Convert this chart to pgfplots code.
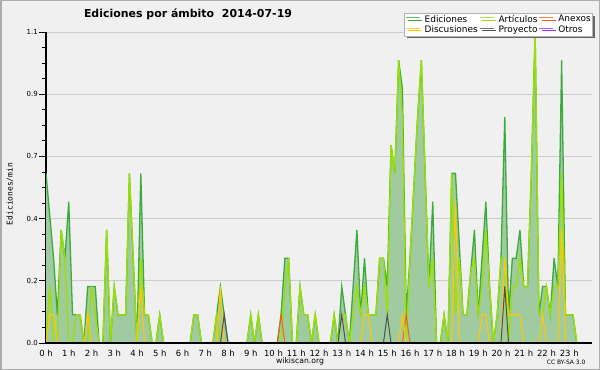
\documentclass[border=0pt]{standalone}
\usepackage{fontspec}
\setmainfont{DejaVu Sans}
\newfontfamily\monofont{DejaVu Sans Mono}
\usepackage{pgfplots}
\pgfplotsset{compat=1.18}
\usepackage{pgfplotstable}
\usetikzlibrary{shadows}

\definecolor{bg}{HTML}{F0F0F0}
\definecolor{edfill}{HTML}{A0CBA0}
\definecolor{edline}{HTML}{3DAA3D}
\definecolor{artline}{HTML}{9BE000}
\definecolor{discline}{HTML}{FFC800}
\definecolor{proyline}{HTML}{505050}
\definecolor{anexline}{HTML}{F06020}
\definecolor{otrosline}{HTML}{9933FF}
\definecolor{gridc}{HTML}{CCCCCC}

\pgfplotstableread{
i ed art disc proy anex
0 0.6 0 0 0 0
1 0.45 0.2 0.1 0 0
2 0.3 0 0.1 0 0
3 0.1 0 0 0 0
4 0.4 0.4 0 0 0
5 0.3 0.3 0 0 0
6 0.5 0 0 0 0
7 0.1 0 0 0 0
8 0.1 0.1 0 0 0
9 0.1 0.1 0 0 0
10 0 0 0 0 0
11 0.2 0 0.1 0 0
12 0.2 0.2 0 0 0
13 0.2 0.1 0 0 0
14 0 0 0 0 0
15 0 0 0 0 0
16 0.4 0.4 0 0 0
17 0 0 0 0 0
18 0.2 0.2 0 0 0
19 0.1 0.1 0 0 0
20 0.1 0.1 0 0 0
21 0.1 0.1 0 0 0
22 0.6 0.6 0 0 0
23 0.3 0.3 0 0 0
24 0 0 0 0 0
25 0.6 0.3 0.2 0 0
26 0.1 0.1 0 0 0
27 0.1 0.1 0 0 0
28 0 0 0 0 0
29 0 0 0 0 0
30 0.1 0.1 0 0 0
31 0 0 0 0 0
32 0 0 0 0 0
33 0 0 0 0 0
34 0 0 0 0 0
35 0 0 0 0 0
36 0 0 0 0 0
37 0 0 0 0 0
38 0 0 0 0 0
39 0.1 0.1 0 0 0
40 0.1 0.1 0 0 0
41 0 0 0 0 0
42 0 0 0 0 0
43 0 0 0 0 0
44 0 0 0 0 0
45 0.1 0.1 0 0 0
46 0.2 0 0.2 0 0
47 0.1 0 0 0.1 0
48 0 0 0 0 0
49 0 0 0 0 0
50 0 0 0 0 0
51 0 0 0 0 0
52 0 0 0 0 0
53 0 0 0 0 0
54 0.1 0.1 0 0 0
55 0 0 0 0 0
56 0.1 0.1 0 0 0
57 0 0 0 0 0
58 0 0 0 0 0
59 0 0 0 0 0
60 0 0 0 0 0
61 0 0 0 0 0
62 0.1 0 0 0 0.1
63 0.3 0.2 0 0 0
64 0.3 0.3 0 0 0
65 0 0 0 0 0
66 0 0 0 0 0
67 0.2 0.2 0 0 0
68 0.1 0.1 0 0 0
69 0.1 0.1 0 0 0
70 0 0 0 0 0
71 0.1 0.1 0 0 0
72 0 0 0 0 0
73 0 0 0 0 0
74 0 0 0 0 0
75 0 0 0 0 0
76 0.1 0.1 0 0 0
77 0 0 0 0 0
78 0.2 0.1 0 0.1 0
79 0.1 0.1 0 0 0
80 0 0 0 0 0
81 0.2 0.1 0 0 0
82 0.4 0.2 0 0 0
83 0.1 0.1 0 0 0
84 0.3 0.2 0.1 0 0
85 0.1 0.1 0.1 0 0
86 0.1 0.1 0 0 0
87 0.1 0.1 0 0 0
88 0.3 0.3 0 0 0
89 0.3 0.3 0 0 0
90 0.2 0.1 0 0.1 0
91 0.7 0.7 0 0 0
92 0.6 0.6 0 0 0
93 1.0 1.0 0 0 0
94 0.9 0.8 0.1 0 0
95 0.1 0 0 0 0.1
96 0.3 0.3 0 0 0
97 0.55 0.55 0 0 0
98 0.8 0.8 0 0 0
99 1.0 1.0 0 0 0
100 0.6 0.6 0 0 0
101 0.2 0.2 0 0 0
102 0.5 0.3 0 0 0
103 0 0 0 0 0
104 0 0 0 0 0
105 0.1 0.1 0 0 0
106 0 0 0 0 0
107 0.6 0.6 0 0 0
108 0.6 0.1 0.5 0 0
109 0.35 0.3 0 0 0
110 0.1 0.1 0 0 0
111 0.1 0.1 0 0 0
112 0.25 0.25 0 0 0
113 0.4 0.3 0 0 0
114 0.1 0.1 0 0 0
115 0.3 0.2 0.1 0 0
116 0.5 0.4 0.1 0 0
117 0.2 0.2 0 0 0
118 0 0 0 0 0
119 0.1 0.1 0 0 0
120 0.3 0.3 0 0 0
121 0.8 0.3 0.3 0.2 0
122 0.1 0 0.1 0 0
123 0.3 0.2 0.1 0 0
124 0.3 0.2 0.1 0 0
125 0.4 0.3 0.1 0 0
126 0.2 0.2 0 0 0
127 0.2 0.2 0 0 0
128 0.6 0.6 0 0 0
129 1.1 1.1 0 0 0
130 0.1 0.1 0 0 0
131 0.2 0.1 0.1 0 0
132 0.2 0.2 0 0 0
133 0.1 0.1 0 0 0
134 0.3 0.2 0 0 0
135 0.2 0.2 0 0 0
136 1.0 0.6 0.4 0 0
137 0.1 0.1 0 0 0
138 0.1 0.1 0 0 0
139 0.1 0.1 0 0 0
140 0 0 0 0 0
141 0 0 0 0 0
142 0 0 0 0 0
143 0 0 0 0 0
}\datatab

\begin{document}
\begin{tikzpicture}
\fill[bg] (0,0) rectangle (600bp,370bp);
\draw[gray!65, line width=1.5bp] (0.75bp,0.75bp) rectangle (599.25bp,369.25bp);
\begin{axis}[
  at={(46bp,27bp)}, anchor=south west,
  scale only axis, width=546bp, height=311bp,
  xmin=0, xmax=24, ymin=0, ymax=1.1,
  axis x line*=bottom, axis y line*=left,
  axis line style={line width=1.5bp, black},
  tick align=outside,
  major tick length=7bp, minor tick length=3.5bp,
  every tick/.style={black, line width=0.8bp},
  xtick={0,...,23},
  xticklabels={0 h,1 h,2 h,3 h,4 h,5 h,6 h,7 h,8 h,9 h,10 h,11 h,12 h,13 h,14 h,15 h,16 h,17 h,18 h,19 h,20 h,21 h,22 h,23 h},
  xtick style={draw=none},
  minor xtick={0,0.1666667,...,24},
  ytick={0,0.22,0.44,0.66,0.88,1.1},
  yticklabels={0.0,0.2,0.4,0.7,0.9,1.1},
  minor y tick num=3,
  ymajorgrids, major grid style={draw=gridc, line width=0.9bp},
  xticklabel style={font=\fontsize{8.5}{9}\selectfont, inner sep=1bp, yshift=1bp},
  yticklabel style={font=\fontsize{7}{8}\selectfont, inner sep=1bp},
  legend columns=3,
  legend cell align=left,
  legend image code/.code={\draw[#1, line width=0.9bp, opacity=0.8] (0bp,0.3ex) -- (14bp,0.3ex);},
  legend style={at={(1.002,1.062)}, anchor=north east, draw=gray!60, fill=white,
    line width=0.6bp, font=\fontsize{9}{9}\selectfont, inner sep=1.2bp,
    drop shadow={shadow xshift=2.5bp, shadow yshift=-2.5bp, fill=gray!80!black, opacity=1},
    nodes={inner sep=0.9bp},
    /tikz/every odd column/.append style={column sep=3.5bp},
    /tikz/every even column/.append style={column sep=0.5bp}},
]
\addplot[draw=none, fill=edfill, forget plot] table[x expr=\thisrow{i}/6, y=ed] {\datatab} \closedcycle;
\addplot[edline, line width=1.3bp] table[x expr=\thisrow{i}/6, y=ed] {\datatab};
\addlegendentry{Ediciones}
\addplot[artline, line width=1.3bp] table[x expr=\thisrow{i}/6, y=art] {\datatab};
\addlegendentry{Artículos}
\addplot[anexline, line width=1bp] table[x expr=\thisrow{i}/6, y=anex] {\datatab};
\addlegendentry{Anexos}
\addplot[discline, line width=1.1bp] table[x expr=\thisrow{i}/6, y=disc] {\datatab};
\addlegendentry{Discusiones}
\addplot[proyline, line width=1bp] table[x expr=\thisrow{i}/6, y=proy] {\datatab};
\addlegendentry{Proyecto}
\addlegendimage{otrosline, line width=1bp}
\addlegendentry{Otros}
\draw[black, line width=1.5bp] (axis cs:0,0) -- (axis cs:24,0);
\end{axis}
\node[font=\bfseries\fontsize{11}{13}\selectfont] at (188bp,356bp) {Ediciones por ámbito\hspace{0.7em}2014-07-19};
\node[font=\monofont\fontsize{8}{9}\selectfont, rotate=90] at (10bp,176bp) {Ediciones/min};
\node[font=\fontsize{7.7}{9}\selectfont] at (300bp,9bp) {wikiscan.org};
\node[font=\fontsize{6}{7}\selectfont, anchor=east] at (589bp,7.5bp) {CC BY-SA 3.0};
\end{tikzpicture}
\end{document}
